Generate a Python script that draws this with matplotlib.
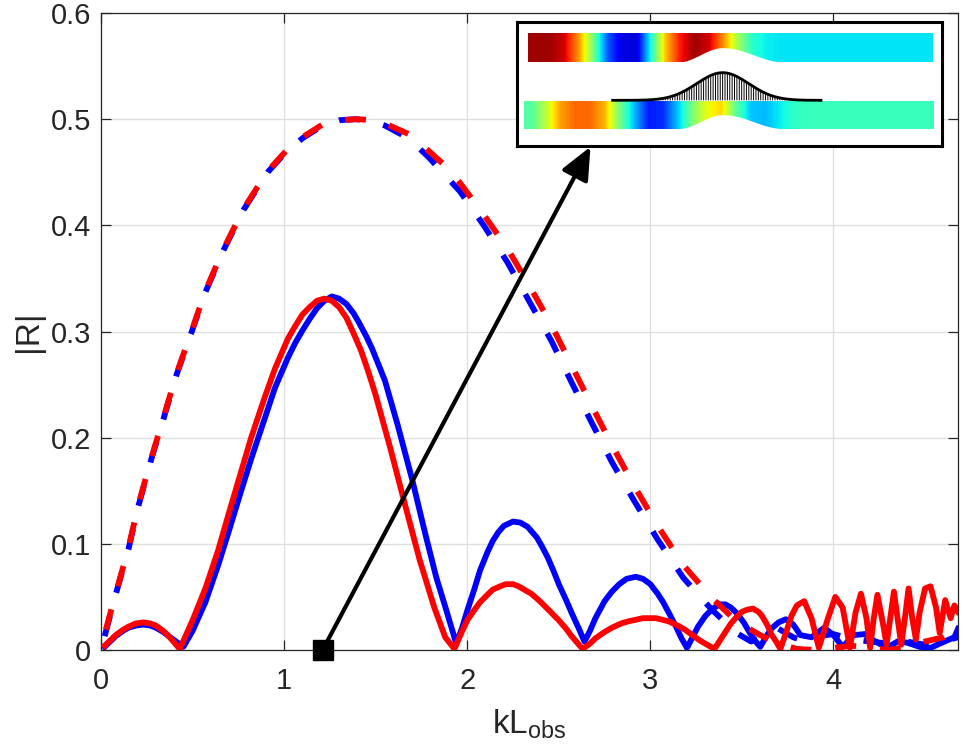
import numpy as np
import matplotlib
matplotlib.use("Agg")
import matplotlib.pyplot as plt

plt.rcParams['font.family'] = ['Liberation Sans', 'DejaVu Sans']
plt.rcParams['mathtext.fontset'] = 'custom'
plt.rcParams['mathtext.rm'] = 'Liberation Sans'
plt.rcParams['mathtext.it'] = 'Liberation Sans'
plt.rcParams['hatch.linewidth'] = 0.7

# ---------------- data ----------------
bs_x = [0.02, 0.05, 0.08, 0.12, 0.15, 0.19, 0.23, 0.27, 0.30, 0.34, 0.37, 0.41, 0.45,
        0.50, 0.57, 0.64, 0.70, 0.76, 0.82, 0.89, 0.95, 1.02, 1.06, 1.10, 1.14, 1.18, 1.22, 1.26,
        1.30, 1.34, 1.38, 1.41, 1.45, 1.48, 1.55, 1.62, 1.70, 1.77, 1.83, 1.89, 1.94,
        1.97, 2.00, 2.04, 2.07, 2.11, 2.14, 2.17, 2.20, 2.25, 2.29, 2.33, 2.38, 2.41, 2.44, 2.47,
        2.50, 2.54, 2.57, 2.61, 2.64, 2.67, 2.70, 2.75, 2.79, 2.83, 2.87, 2.92, 2.96, 3.00, 3.04,
        3.07, 3.11, 3.14, 3.17, 3.20, 3.23, 3.26, 3.30, 3.34, 3.38, 3.41, 3.44, 3.47, 3.51, 3.54,
        3.57, 3.60, 3.63, 3.66, 3.70, 3.74, 3.78, 3.82, 3.88, 3.95, 4.00, 4.05, 4.11, 4.17, 4.22,
        4.29, 4.35, 4.40, 4.47, 4.53, 4.58, 4.62, 4.66, 4.68]
bs_y = [0.003, 0.008, 0.013, 0.018, 0.021, 0.023, 0.024, 0.023, 0.021, 0.017, 0.013, 0.008, 0.003,
        0.018, 0.045, 0.080, 0.113, 0.147, 0.180, 0.216, 0.247, 0.275, 0.289, 0.301, 0.312, 0.322, 0.329, 0.333,
        0.331, 0.326, 0.317, 0.308, 0.295, 0.284, 0.254, 0.212, 0.160, 0.110, 0.069, 0.035, 0.006,
        0.020, 0.037, 0.058, 0.075, 0.092, 0.103, 0.111, 0.117, 0.121, 0.120, 0.116, 0.106, 0.097, 0.087, 0.075,
        0.062, 0.047, 0.035, 0.020, 0.008, 0.018, 0.030, 0.046, 0.055, 0.062, 0.067, 0.069, 0.067, 0.062, 0.053,
        0.045, 0.032, 0.022, 0.011, 0.002, 0.012, 0.022, 0.032, 0.039, 0.043, 0.043, 0.040, 0.035, 0.026, 0.017,
        0.009, 0.003, 0.012, 0.020, 0.026, 0.029, 0.024, 0.014, 0.012, 0.021, 0.014, 0.003, 0.014, 0.015, 0.009,
        0.002, 0.008, 0.007, 0.003, 0.002, 0.006, 0.009, 0.012, 0.020]

rs_x = [0.02, 0.05, 0.08, 0.12, 0.15, 0.19, 0.23, 0.27, 0.30, 0.34, 0.37, 0.40, 0.43,
        0.50, 0.57, 0.64, 0.70, 0.76, 0.82, 0.89, 0.95, 1.02, 1.06, 1.10, 1.14, 1.18, 1.22, 1.26,
        1.30, 1.34, 1.38, 1.42, 1.46, 1.50, 1.58, 1.66, 1.74, 1.82, 1.88, 1.93,
        1.97, 2.00, 2.04, 2.07, 2.11, 2.14, 2.18, 2.21, 2.25, 2.28, 2.32, 2.35, 2.39, 2.42, 2.46,
        2.50, 2.54, 2.57, 2.60, 2.63, 2.67, 2.70, 2.75, 2.79, 2.84, 2.88, 2.96, 3.03, 3.10, 3.15,
        3.19, 3.23, 3.27, 3.31, 3.35, 3.38, 3.41, 3.44, 3.47, 3.50, 3.53, 3.56, 3.59, 3.61, 3.64,
        3.66, 3.69, 3.71, 3.74, 3.77, 3.80, 3.84, 3.88,
        3.92, 3.97, 4.01, 4.05, 4.09, 4.12, 4.15, 4.18, 4.20, 4.22, 4.24, 4.27, 4.29, 4.31, 4.33,
        4.35, 4.37, 4.39, 4.41, 4.43, 4.45, 4.47, 4.50, 4.53, 4.56, 4.58, 4.61, 4.64, 4.66, 4.68]
rs_y = [0.004, 0.009, 0.014, 0.019, 0.022, 0.025, 0.026, 0.025, 0.023, 0.018, 0.013, 0.007, 0.001,
        0.028, 0.058, 0.094, 0.130, 0.165, 0.200, 0.236, 0.265, 0.293, 0.305, 0.316, 0.323, 0.329, 0.331, 0.329,
        0.323, 0.313, 0.298, 0.282, 0.262, 0.240, 0.190, 0.137, 0.085, 0.040, 0.012, 0.001,
        0.017, 0.028, 0.038, 0.045, 0.052, 0.057, 0.060, 0.062, 0.062, 0.060, 0.056, 0.053, 0.047, 0.042, 0.035,
        0.028, 0.020, 0.013, 0.007, 0.001, 0.006, 0.011, 0.017, 0.021, 0.025, 0.027, 0.030, 0.030, 0.027, 0.023,
        0.019, 0.014, 0.009, 0.005, 0.001, 0.009, 0.017, 0.025, 0.031, 0.036, 0.038, 0.039, 0.036, 0.032, 0.023,
        0.015, 0.007, 0.001, 0.016, 0.032, 0.042, 0.046, 0.030,
        0.002, 0.030, 0.050, 0.040, 0.002, 0.035, 0.053, 0.030, 0.002, 0.030, 0.052, 0.025, 0.005, 0.030, 0.055,
        0.030, 0.005, 0.030, 0.058, 0.030, 0.010, 0.035, 0.058, 0.060, 0.040, 0.016, 0.047, 0.030, 0.042, 0.036]

bd_x = [0.02, 0.08, 0.15, 0.20, 0.27, 0.34, 0.41, 0.49, 0.57, 0.67, 0.78, 0.91, 1.01, 1.10, 1.21, 1.30,
        1.39, 1.48, 1.55, 1.68, 1.79, 1.88, 1.96, 2.09, 2.22, 2.34, 2.46, 2.57, 2.68, 2.79, 2.91, 3.04,
        3.18, 3.33, 3.47, 3.55, 3.62, 3.70, 3.78, 3.85, 3.92, 4.00, 4.10, 4.20, 4.30, 4.40, 4.50, 4.60, 4.68]
bd_y = [0.013, 0.052, 0.095, 0.133, 0.177, 0.217, 0.258, 0.297, 0.337, 0.377, 0.415, 0.450, 0.469, 0.482, 0.494, 0.499,
        0.500, 0.498, 0.494, 0.482, 0.464, 0.447, 0.432, 0.400, 0.365, 0.328, 0.291, 0.252, 0.214, 0.177, 0.141, 0.104,
        0.068, 0.039, 0.016, 0.008, 0.012, 0.020, 0.012, 0.008, 0.013, 0.015, 0.010, 0.008, 0.006, 0.008, 0.005, 0.008, 0.012]

rd_x = [0.02, 0.08, 0.15, 0.20, 0.27, 0.34, 0.41, 0.49, 0.57, 0.67, 0.78, 0.91, 1.01, 1.10, 1.21, 1.30,
        1.40, 1.48, 1.55, 1.68, 1.79, 1.88, 1.96, 2.09, 2.22, 2.34, 2.46, 2.57, 2.68, 2.79, 2.91, 3.04,
        3.18, 3.33, 3.47, 3.60, 3.70, 3.80, 3.90, 4.00, 4.10, 4.20, 4.30, 4.40, 4.50, 4.60, 4.68]
rd_y = [0.015, 0.053, 0.096, 0.134, 0.178, 0.218, 0.259, 0.298, 0.338, 0.378, 0.416, 0.451, 0.470, 0.483, 0.495, 0.499,
        0.500, 0.499, 0.496, 0.486, 0.470, 0.456, 0.440, 0.410, 0.378, 0.343, 0.306, 0.268, 0.230, 0.193, 0.155, 0.117,
        0.080, 0.050, 0.027, 0.014, 0.006, 0.001, 0.000, 0.002, 0.004, 0.002, 0.000, 0.003, 0.008, 0.012, 0.020]

marker_x, marker_y = 1.21, 0.0
arrow_tip = (2.673, 0.474)

x_ticks = [0, 1, 2, 3, 4]
y_ticks = [0, 0.1, 0.2, 0.3, 0.4, 0.5, 0.6]
y_ticklabels = ['0', '0.1', '0.2', '0.3', '0.4', '0.5', '0.6']

# inset colour fields (jet values sampled uniformly along each duct)
top_field = [0.97, 0.97, 0.93, 0.75, 0.50, 0.22, 0.09, 0.08, 0.38, 0.70, 0.88, 0.97, 0.93, 0.76,
             0.55, 0.40, 0.36, 0.35, 0.35, 0.35, 0.35, 0.35, 0.35, 0.35, 0.35, 0.35, 0.35, 0.35]
bot_field = [0.45, 0.58, 0.74, 0.80, 0.80, 0.72, 0.50, 0.32, 0.15, 0.17, 0.32, 0.50, 0.63, 0.68,
             0.46, 0.32, 0.31, 0.36, 0.41, 0.42, 0.42, 0.42, 0.42, 0.42, 0.42, 0.42, 0.42, 0.42]

# ---------------- figure ----------------
fig = plt.figure(figsize=(9.67, 7.56), dpi=100)
ax = fig.add_axes([0.10445, 0.1402, 0.88625, 0.8426])

lw = 4.2
dash_b = (0, (3.6, 4.1))
dash_r = (6.9, (3.6, 4.1))
ax.plot(bd_x, bd_y, color=(0, 0, 1), lw=lw, linestyle=dash_b, zorder=3)
ax.plot(bs_x, bs_y, color=(0, 0, 1), lw=lw, zorder=3, solid_joinstyle='round')
ax.plot(rd_x, rd_y, color=(1, 0, 0), lw=lw, linestyle=dash_r, zorder=4)
ax.plot(rs_x, rs_y, color=(1, 0, 0), lw=lw, zorder=4, solid_joinstyle='round')

ax.annotate('', xy=arrow_tip, xytext=(marker_x, marker_y),
            arrowprops=dict(arrowstyle='-|>,head_length=0.9,head_width=0.4', lw=3, color='k',
                            shrinkA=0, shrinkB=0, mutation_scale=22),
            annotation_clip=False, zorder=6)
ax.plot([marker_x], [marker_y], marker='s', color='k', markersize=14, clip_on=False, zorder=7)

ax.set_xlim(0, 4.68)
ax.set_ylim(0, 0.6)
ax.set_xticks(x_ticks)
ax.set_yticks(y_ticks)
ax.set_yticklabels(y_ticklabels)
ax.grid(True, color='#dfdfdf', lw=0.9)
ax.set_axisbelow(True)
tc = '#262626'
for s in ax.spines.values():
    s.set_color(tc)
    s.set_linewidth(0.9)
ax.tick_params(direction='in', length=7, width=0.9, color=tc, labelcolor=tc,
               labelsize=21, top=True, right=True)
ax.tick_params(axis='x', pad=12)
ax.tick_params(axis='y', pad=7)

ax.set_xlabel(r'$\mathrm{kL_{obs}}$', fontsize=24, color=tc)
ax.xaxis.set_label_coords(0.5, -0.09)
ax.set_ylabel('|R|', fontsize=24, color=tc)
ax.yaxis.set_label_coords(-0.067, 0.5)

# ---------------- inset ----------------
ins = fig.add_axes([517 / 967, (756 - 146) / 756, 425 / 967, 124 / 756])
ins.set_xticks([])
ins.set_yticks([])
for s in ins.spines.values():
    s.set_linewidth(2.2)
    s.set_color('k')
ins.set_zorder(10)

ins.imshow(np.array([top_field]), cmap='jet', vmin=0, vmax=1, extent=(40, 1255, 140, 55),
           aspect='auto', interpolation='bilinear')
ins.imshow(np.array([bot_field]), cmap='jet', vmin=0, vmax=1, extent=(30, 1260, 340, 258),
           aspect='auto', interpolation='bilinear')
ins.set_xlim(8, 1283)
ins.set_ylim(392, 20)

# wall bump (white) cut into both ducts
bx = np.linspace(490, 810, 120)
w = np.where(bx < 625, 135.0, 185.0)
shape = 0.5 + 0.5 * np.cos(np.pi * (bx - 625) / w)
ins.fill_between(bx, 140 - 43 * shape, 142, color='white', lw=0, zorder=3)
ins.fill_between(bx, 340 - 42 * shape, 342, color='white', lw=0, zorder=3)

# hatched bump profile
gx = np.linspace(295, 920, 200)
gy = 255 - 83 * np.exp(-((gx - 625) / 110.0) ** 2)
ins.fill_between(gx, gy, 255, facecolor='none', edgecolor='k', hatch='|||||||', lw=0, zorder=4)
ins.plot(gx, gy, color='k', lw=2, zorder=5)

fig.savefig('out.png', dpi=100)
